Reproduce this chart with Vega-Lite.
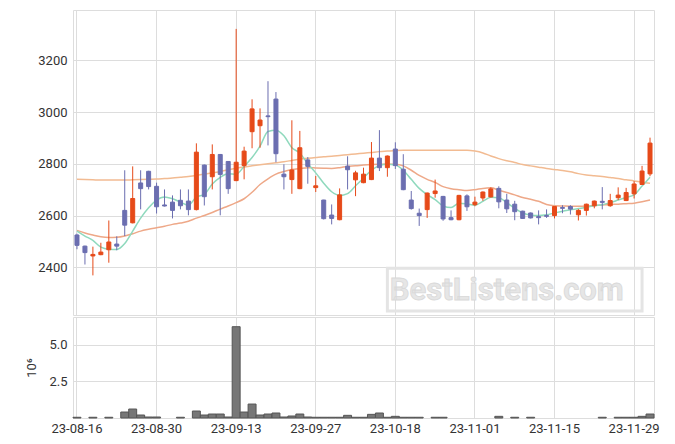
{
  "$schema": "https://vega.github.io/schema/vega-lite/v6.json",
  "padding": {"left": 25, "top": 9, "right": 15, "bottom": 5},
  "background": "white",
  "config": {
    "font": "Roboto",
    "view": {"stroke": "#dddddd"},
    "axis": {"labelFont": "Roboto", "labelFontSize": 13, "labelColor": "#333333", "gridColor": "#dddddd", "domain": false, "ticks": false, "titleFont": "Roboto", "titleColor": "#333333"}
  },
  "datasets": {
    "k": [
      {"d":"23-08-16","o":2525,"h":2530,"l":2470,"c":2485,"v":50000,"ma5":2540,"ma20":2543,"ma60":2740},
      {"d":"23-08-17","o":2482,"h":2484,"l":2411,"c":2457,"v":null,"ma5":2521,"ma20":2533,"ma60":2739},
      {"d":"23-08-18","o":2444,"h":2480,"l":2369,"c":2450,"v":50000,"ma5":2504,"ma20":2525,"ma60":2738},
      {"d":"23-08-21","o":2449,"h":2495,"l":2447,"c":2459,"v":null,"ma5":2478,"ma20":2518,"ma60":2737},
      {"d":"23-08-22","o":2468,"h":2581,"l":2418,"c":2498,"v":50000,"ma5":2470,"ma20":2515,"ma60":2737},
      {"d":"23-08-23","o":2490,"h":2520,"l":2466,"c":2482,"v":null,"ma5":2469,"ma20":2516,"ma60":2737},
      {"d":"23-08-24","o":2620,"h":2775,"l":2521,"c":2563,"v":407000,"ma5":2492,"ma20":2521,"ma60":2737},
      {"d":"23-08-25","o":2572,"h":2790,"l":2570,"c":2666,"v":611000,"ma5":2540,"ma20":2530,"ma60":2738},
      {"d":"23-08-28","o":2726,"h":2775,"l":2624,"c":2704,"v":204000,"ma5":2590,"ma20":2540,"ma60":2739},
      {"d":"23-08-29","o":2771,"h":2773,"l":2701,"c":2712,"v":68000,"ma5":2630,"ma20":2547,"ma60":2740},
      {"d":"23-08-30","o":2713,"h":2727,"l":2608,"c":2634,"v":68000,"ma5":2660,"ma20":2553,"ma60":2741},
      {"d":"23-08-31","o":2641,"h":2701,"l":2635,"c":2637,"v":null,"ma5":2672,"ma20":2559,"ma60":2743},
      {"d":"23-09-01","o":2652,"h":2678,"l":2589,"c":2620,"v":null,"ma5":2665,"ma20":2566,"ma60":2745},
      {"d":"23-09-04","o":2659,"h":2701,"l":2624,"c":2638,"v":50000,"ma5":2652,"ma20":2571,"ma60":2748},
      {"d":"23-09-05","o":2656,"h":2701,"l":2601,"c":2623,"v":null,"ma5":2640,"ma20":2578,"ma60":2751},
      {"d":"23-09-06","o":2623,"h":2879,"l":2620,"c":2845,"v":475000,"ma5":2672,"ma20":2590,"ma60":2755},
      {"d":"23-09-07","o":2795,"h":2797,"l":2639,"c":2673,"v":204000,"ma5":2682,"ma20":2600,"ma60":2760},
      {"d":"23-09-08","o":2750,"h":2875,"l":2701,"c":2836,"v":271000,"ma5":2722,"ma20":2612,"ma60":2765},
      {"d":"23-09-11","o":2836,"h":2838,"l":2601,"c":2759,"v":271000,"ma5":2748,"ma20":2625,"ma60":2770},
      {"d":"23-09-12","o":2809,"h":2810,"l":2684,"c":2704,"v":68000,"ma5":2762,"ma20":2637,"ma60":2777},
      {"d":"23-09-13","o":2735,"h":3321,"l":2733,"c":2806,"v":6220000,"ma5":2760,"ma20":2650,"ma60":2783},
      {"d":"23-09-14","o":2793,"h":2866,"l":2740,"c":2849,"v":407000,"ma5":2790,"ma20":2665,"ma60":2788},
      {"d":"23-09-15","o":2924,"h":3049,"l":2860,"c":3012,"v":950000,"ma5":2824,"ma20":2690,"ma60":2792},
      {"d":"23-09-18","o":2947,"h":3014,"l":2862,"c":2969,"v":204000,"ma5":2868,"ma20":2720,"ma60":2796},
      {"d":"23-09-19","o":2985,"h":3119,"l":2871,"c":2982,"v":271000,"ma5":2925,"ma20":2742,"ma60":2800},
      {"d":"23-09-20","o":3050,"h":3077,"l":2806,"c":2839,"v":340000,"ma5":2930,"ma20":2760,"ma60":2804},
      {"d":"23-09-21","o":2760,"h":2798,"l":2701,"c":2750,"v":68000,"ma5":2908,"ma20":2770,"ma60":2808},
      {"d":"23-09-22","o":2739,"h":2968,"l":2684,"c":2776,"v":136000,"ma5":2862,"ma20":2778,"ma60":2813},
      {"d":"23-09-25","o":2704,"h":2927,"l":2702,"c":2862,"v":271000,"ma5":2842,"ma20":2782,"ma60":2818},
      {"d":"23-09-26","o":2815,"h":2826,"l":2723,"c":2790,"v":68000,"ma5":2800,"ma20":2785,"ma60":2821},
      {"d":"23-09-27","o":2708,"h":2753,"l":2691,"c":2715,"v":50000,"ma5":2765,"ma20":2784,"ma60":2824},
      {"d":"23-10-04","o":2660,"h":2661,"l":2585,"c":2588,"v":50000,"ma5":2725,"ma20":2783,"ma60":2827},
      {"d":"23-10-05","o":2602,"h":2643,"l":2566,"c":2589,"v":50000,"ma5":2692,"ma20":2782,"ma60":2829},
      {"d":"23-10-06","o":2584,"h":2705,"l":2582,"c":2680,"v":50000,"ma5":2678,"ma20":2785,"ma60":2832},
      {"d":"23-10-10","o":2791,"h":2829,"l":2701,"c":2777,"v":181000,"ma5":2685,"ma20":2790,"ma60":2835},
      {"d":"23-10-11","o":2738,"h":2773,"l":2675,"c":2765,"v":50000,"ma5":2715,"ma20":2792,"ma60":2838},
      {"d":"23-10-12","o":2727,"h":2785,"l":2725,"c":2760,"v":50000,"ma5":2745,"ma20":2795,"ma60":2841},
      {"d":"23-10-13","o":2739,"h":2884,"l":2737,"c":2822,"v":249000,"ma5":2775,"ma20":2797,"ma60":2844},
      {"d":"23-10-16","o":2822,"h":2930,"l":2772,"c":2785,"v":340000,"ma5":2793,"ma20":2798,"ma60":2847},
      {"d":"23-10-17","o":2785,"h":2832,"l":2750,"c":2830,"v":50000,"ma5":2798,"ma20":2798,"ma60":2849},
      {"d":"23-10-18","o":2857,"h":2883,"l":2780,"c":2793,"v":113000,"ma5":2795,"ma20":2798,"ma60":2851},
      {"d":"23-10-19","o":2779,"h":2837,"l":2698,"c":2700,"v":50000,"ma5":2775,"ma20":2792,"ma60":2852},
      {"d":"23-10-20","o":2660,"h":2695,"l":2623,"c":2627,"v":50000,"ma5":2740,"ma20":2775,"ma60":2852},
      {"d":"23-10-23","o":2609,"h":2627,"l":2560,"c":2600,"v":50000,"ma5":2705,"ma20":2755,"ma60":2852},
      {"d":"23-10-24","o":2623,"h":2689,"l":2591,"c":2687,"v":null,"ma5":2681,"ma20":2740,"ma60":2852},
      {"d":"23-10-25","o":2685,"h":2739,"l":2669,"c":2695,"v":50000,"ma5":2662,"ma20":2728,"ma60":2852},
      {"d":"23-10-26","o":2674,"h":2676,"l":2580,"c":2587,"v":50000,"ma5":2637,"ma20":2712,"ma60":2852},
      {"d":"23-10-27","o":2592,"h":2620,"l":2582,"c":2584,"v":null,"ma5":2631,"ma20":2704,"ma60":2852},
      {"d":"23-10-30","o":2584,"h":2680,"l":2582,"c":2678,"v":null,"ma5":2648,"ma20":2700,"ma60":2852},
      {"d":"23-10-31","o":2676,"h":2682,"l":2618,"c":2634,"v":null,"ma5":2645,"ma20":2697,"ma60":2852},
      {"d":"23-11-01","o":2642,"h":2673,"l":2636,"c":2652,"v":null,"ma5":2640,"ma20":2700,"ma60":2849},
      {"d":"23-11-02","o":2668,"h":2693,"l":2657,"c":2691,"v":null,"ma5":2655,"ma20":2705,"ma60":2842},
      {"d":"23-11-03","o":2672,"h":2709,"l":2670,"c":2703,"v":null,"ma5":2671,"ma20":2707,"ma60":2830},
      {"d":"23-11-06","o":2705,"h":2713,"l":2628,"c":2653,"v":113000,"ma5":2669,"ma20":2698,"ma60":2820},
      {"d":"23-11-07","o":2660,"h":2684,"l":2610,"c":2626,"v":null,"ma5":2650,"ma20":2689,"ma60":2812},
      {"d":"23-11-08","o":2644,"h":2657,"l":2582,"c":2615,"v":50000,"ma5":2628,"ma20":2680,"ma60":2805},
      {"d":"23-11-09","o":2617,"h":2619,"l":2587,"c":2589,"v":null,"ma5":2610,"ma20":2670,"ma60":2797},
      {"d":"23-11-10","o":2610,"h":2612,"l":2589,"c":2591,"v":50000,"ma5":2602,"ma20":2663,"ma60":2792},
      {"d":"23-11-13","o":2596,"h":2620,"l":2566,"c":2592,"v":null,"ma5":2600,"ma20":2655,"ma60":2787},
      {"d":"23-11-14","o":2600,"h":2624,"l":2591,"c":2597,"v":null,"ma5":2603,"ma20":2643,"ma60":2782},
      {"d":"23-11-15","o":2600,"h":2637,"l":2589,"c":2635,"v":null,"ma5":2610,"ma20":2638,"ma60":2778},
      {"d":"23-11-16","o":2631,"h":2640,"l":2609,"c":2628,"v":null,"ma5":2617,"ma20":2637,"ma60":2774},
      {"d":"23-11-17","o":2635,"h":2640,"l":2604,"c":2625,"v":null,"ma5":2622,"ma20":2636,"ma60":2769},
      {"d":"23-11-20","o":2603,"h":2625,"l":2581,"c":2620,"v":null,"ma5":2627,"ma20":2636,"ma60":2762},
      {"d":"23-11-21","o":2620,"h":2646,"l":2600,"c":2644,"v":null,"ma5":2632,"ma20":2637,"ma60":2757},
      {"d":"23-11-22","o":2638,"h":2658,"l":2628,"c":2656,"v":null,"ma5":2638,"ma20":2639,"ma60":2754},
      {"d":"23-11-23","o":2655,"h":2710,"l":2624,"c":2651,"v":50000,"ma5":2642,"ma20":2641,"ma60":2751},
      {"d":"23-11-24","o":2638,"h":2684,"l":2634,"c":2658,"v":null,"ma5":2650,"ma20":2643,"ma60":2747},
      {"d":"23-11-27","o":2669,"h":2709,"l":2660,"c":2679,"v":50000,"ma5":2660,"ma20":2644,"ma60":2743},
      {"d":"23-11-28","o":2658,"h":2707,"l":2656,"c":2689,"v":50000,"ma5":2670,"ma20":2646,"ma60":2738},
      {"d":"23-11-29","o":2684,"h":2733,"l":2666,"c":2722,"v":50000,"ma5":2680,"ma20":2648,"ma60":2734},
      {"d":"23-11-30","o":2720,"h":2792,"l":2718,"c":2772,"v":113000,"ma5":2714,"ma20":2653,"ma60":2729},
      {"d":"23-12-01","o":2761,"h":2901,"l":2752,"c":2880,"v":271000,"ma5":2748,"ma20":2660,"ma60":2725}
    ]
  },
  "spacing": 0,
  "resolve": {"scale": {"x": "shared"}},
  "vconcat": [
    {
      "width": 581,
      "height": 305,
      "data": {"name": "k"},
      "encoding": {
        "x": {"field": "d", "type": "ordinal", "scale": {"type": "band", "paddingInner": 0, "paddingOuter": 0},
              "axis": {"values": ["23-08-16","23-08-30","23-09-13","23-09-27","23-10-18","23-11-01","23-11-15","23-11-29"], "labels": false, "title": null, "grid": true, "bandPosition": 0.5}}
      },
      "layer": [
        {
          "mark": {"type": "line", "color": "#f2bb92", "strokeWidth": 1.5, "interpolate": "monotone"},
          "encoding": {"y": {"field": "ma60", "type": "quantitative", "scale": {"domain": [2216, 3394], "nice": false, "zero": false},
                             "axis": {"values": [2400, 2600, 2800, 3000, 3200], "format": "d", "title": null, "labelPadding": 6, "grid": true}}}
        },
        {
          "mark": {"type": "line", "color": "#eea888", "strokeWidth": 1.5, "interpolate": "monotone"},
          "encoding": {"y": {"field": "ma20", "type": "quantitative"}}
        },
        {
          "mark": {"type": "line", "color": "#8fd9bd", "strokeWidth": 1.5, "interpolate": "monotone"},
          "encoding": {"y": {"field": "ma5", "type": "quantitative"}}
        },
        {
          "mark": {"type": "rule", "strokeWidth": 1},
          "encoding": {
            "y": {"field": "l", "type": "quantitative"},
            "y2": {"field": "h"},
            "color": {"condition": {"test": "datum.c >= datum.o", "value": "#e64a19"}, "value": "#6b6eb0"}
          }
        },
        {
          "mark": {"type": "bar", "size": 4, "strokeWidth": 1},
          "encoding": {
            "y": {"field": "o", "type": "quantitative"},
            "y2": {"field": "c"},
            "fill": {"condition": {"test": "datum.c >= datum.o", "value": "#e64a19"}, "value": "#6b6eb0"},
            "stroke": {"condition": {"test": "datum.c >= datum.o", "value": "#e64a19"}, "value": "#6b6eb0"}
          }
        },
        {
          "data": {"values": [{}]},
          "mark": {"type": "rect", "filled": false, "stroke": "#e4e4e4", "strokeWidth": 3},
          "encoding": {
            "x": {"datum": "23-10-17"},
            "x2": {"datum": "23-11-30"},
            "y": {"datum": 2397},
            "y2": {"datum": 2231}
          }
        },
        {
          "data": {"values": [{}]},
          "mark": {"type": "text", "text": "BestListens.com", "font": "Roboto", "fontWeight": "bold", "fontSize": 31, "fill": "#e6e6e6", "stroke": "#d9d9d9", "strokeWidth": 0.8, "align": "center", "baseline": "middle"},
          "encoding": {
            "x": {"datum": "23-11-07"},
            "y": {"datum": 2310}
          }
        }
      ]
    },
    {
      "width": 581,
      "height": 101,
      "data": {"name": "k"},
      "mark": {"type": "bar", "fill": "#777777", "stroke": "#555555", "strokeWidth": 1},
      "encoding": {
        "x": {"field": "d", "type": "ordinal", "scale": {"type": "band", "paddingInner": 0, "paddingOuter": 0},
              "axis": {"values": ["23-08-16","23-08-30","23-09-13","23-09-27","23-10-18","23-11-01","23-11-15","23-11-29"], "title": null, "grid": true, "labelAngle": 0, "labelPadding": 4, "bandPosition": 0.5}},
        "y": {"field": "v", "type": "quantitative", "scale": {"domain": [0, 6880000], "nice": false},
              "axis": {"values": [2500000, 5000000], "labelExpr": "format(datum.value / 1000000, '.1f')", "title": "10⁶", "titleFontWeight": "normal", "titleFontSize": 13, "titlePadding": 10, "labelPadding": 6, "grid": true}}
      }
    }
  ]
}
